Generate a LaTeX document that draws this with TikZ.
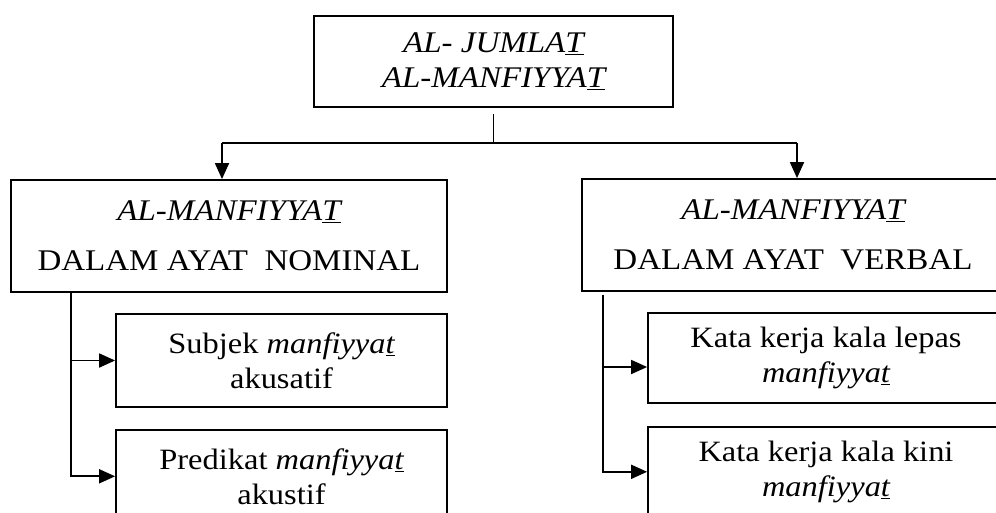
\documentclass[tikz,border=0pt]{standalone}
\usepackage{fontspec}
\setmainfont[FakeStretch=1.1]{Liberation Serif}
\usetikzlibrary{positioning, arrows.meta}

\begin{document}
\begin{tikzpicture}[x=1pt, y=-1pt,
    comp/.style={draw=black, line width=1.8pt, align=center, inner sep=0pt, font=\fontsize{30}{34}\selectfont},
    main/.style={comp, minimum width=436pt, minimum height=112pt},
    sub/.style={comp, minimum width=331pt, minimum height=93pt, font=\fontsize{29.5}{35}\selectfont},
    ln/.style={line width=1.8pt},
    arr/.style={ln, -{Triangle[length=16pt, width=14pt]}}
]
\useasboundingbox (0,0) rectangle (996,512);
\clip (0,0) rectangle (996,512);

\node[comp, minimum width=359pt, minimum height=91pt, font=\fontsize{30}{35}\selectfont\itshape] (root) at (493.5,61.5) {AL- JUMLA\underline{T}\\AL-MANFIYYA\underline{T}};

\node[main] (nominal) at (229,236) {\textit{AL-MANFIYYA\underline{T}}\\[16pt]DALAM AYAT\ \ NOMINAL};
\node[main, minimum width=422pt] (verbal) at (793,235) {\textit{AL-MANFIYYA\underline{T}}\\[16pt]DALAM AYAT\ \ VERBAL};

\node[sub] (subjek) at (281.5,360.5) {Subjek \textit{manfiyya\underline{t}}\\akusatif};
\node[sub, below=21pt of subjek] (predikat) {Predikat \textit{manfiyya\underline{t}}\\akustif};

\node[sub, minimum width=356pt, minimum height=90pt] (lepas) at (826,358) {Kata kerja kala lepas\\\textit{manfiyya\underline{t}}};
\node[sub, minimum width=356pt, minimum height=90pt, below=22pt of lepas] (kini) {Kata kerja kala kini\\\textit{manfiyya\underline{t}}};

% fork under the root
\coordinate (fork) at (493.5,143);
\coordinate (forkL) at (222,143);
\coordinate (forkR) at (797,143);
\draw[ln, shorten <=6pt] (root) -- (fork);
\draw[ln] (forkL) -- (forkR);
\draw[arr] (forkL) -- (forkL |- nominal.north);
\draw[arr] (forkR) -- (forkR |- verbal.north);

% branches
\coordinate (nomtrunk) at ([xshift=61pt]nominal.south west);
\draw[arr] (nomtrunk) |- (subjek.west);
\draw[arr] (nomtrunk) |- (predikat.west);

\coordinate (vtrunk) at ([xshift=22pt, yshift=-3pt]verbal.south west);
\draw[arr] (vtrunk) |- ([yshift=-9pt]lepas.west);
\draw[arr] (vtrunk) |- (kini.west);

\end{tikzpicture}
\end{document}
